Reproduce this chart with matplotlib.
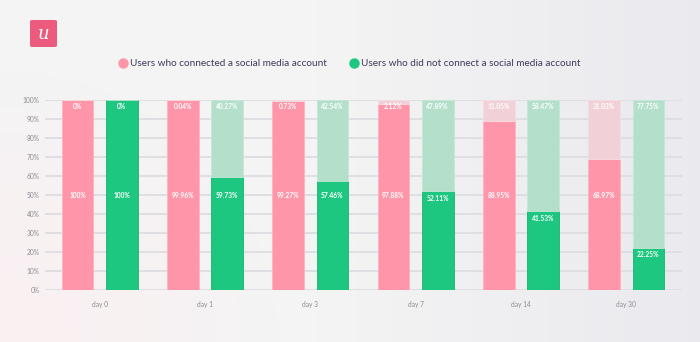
import matplotlib.pyplot as plt
import numpy as np
from matplotlib.patches import FancyBboxPatch
from matplotlib.lines import Line2D

# Data
days = ['day 0', 'day 1', 'day 3', 'day 7', 'day 14', 'day 30']
connected = [100, 99.96, 99.27, 97.88, 88.95, 68.97]
connected_lost = [0, 0.04, 0.73, 2.12, 11.05, 31.03]
not_connected = [100, 59.73, 57.46, 52.11, 41.53, 22.25]
not_connected_lost = [0, 40.27, 42.54, 47.89, 58.47, 77.75]
yticks = [0, 10, 20, 30, 40, 50, 60, 70, 80, 90, 100]

pink = '#FF95A9'
pink_light = '#F1D1D7'
green = '#1DC77F'
green_light = '#B3DFCB'
text_dark = '#3E3B5B'

plt.rcParams['font.family'] = ['Lato', 'DejaVu Sans']

fig = plt.figure(figsize=(7, 3.42), dpi=100)

# Background gradient
bg = fig.add_axes([0, 0, 1, 1])
h, w = 171, 350
yy, xx = np.mgrid[0:1:h * 1j, 0:1:w * 1j]
base = np.array([0.957, 0.957, 0.957])
pinkish = np.array([0.99, 0.935, 0.945])
blueish = np.array([0.905, 0.905, 0.93])
wp = np.clip(1 - np.sqrt((xx / 0.4) ** 2 + ((1 - yy) / 0.8) ** 2), 0, 1)[..., None] * 0.8
wb = np.clip((xx - 0.45) / 0.55, 0, 1)[..., None] * 0.75
img = base * (1 - wp - wb) + pinkish * wp + blueish * wb
bg.imshow(img, aspect='auto', extent=[0, 1, 0, 1], origin='upper')
bg.axis('off')

# Logo
logo = FancyBboxPatch((30 / 700, 1 - 47 / 342), 27 / 700, 27 / 342,
                      boxstyle='round,pad=0,rounding_size=0.004',
                      transform=fig.transFigure, facecolor='#EC5B7E', edgecolor='none')
fig.patches.append(logo)
fig.text(43.5 / 700, 1 - 34 / 342, 'u', color='white', fontsize=13, style='italic',
         family='DejaVu Serif', ha='center', va='center')

# Legend
fig.text(130 / 700, 1 - 63 / 342, 'Users who connected a social media account',
         color=text_dark, fontsize=7.2, va='center', ha='left')
fig.text(361 / 700, 1 - 63 / 342, 'Users who did not connect a social media account',
         color=text_dark, fontsize=7.2, va='center', ha='left')
fig.add_artist(Line2D([123 / 700], [1 - 63 / 342], marker='o', markersize=6.5,
                      color=pink, linestyle='none', transform=fig.transFigure))
fig.add_artist(Line2D([354 / 700], [1 - 63 / 342], marker='o', markersize=6.5,
                      color=green, linestyle='none', transform=fig.transFigure))

# Main chart
ax = fig.add_axes([45 / 700, 52 / 342, 637 / 700, 190 / 342])
ax.patch.set_alpha(0)
x = np.arange(len(days))
bw = 0.30
off = 0.21

ax.bar(x - off, connected, bw, color=pink, edgecolor='#FFB3C1', linewidth=0.6, zorder=3)
ax.bar(x - off, connected_lost, bw, bottom=connected, color=pink_light,
       edgecolor='#F5DDE1', linewidth=0.6, zorder=3)
ax.bar(x + off, not_connected, bw, color=green, edgecolor='#17B46F', linewidth=0.6, zorder=3)
ax.bar(x + off, not_connected_lost, bw, bottom=not_connected, color=green_light,
       edgecolor='#C4E8D7', linewidth=0.6, zorder=3)

def fmt(v):
    return '%g%%' % v

lab = dict(color='white', fontsize=4.8, ha='center', va='center', zorder=4, fontweight='bold')
for i in range(len(days)):
    ax.text(x[i] - off, 50, fmt(connected[i]), **lab)
    ax.text(x[i] - off, 96.8, fmt(connected_lost[i]), **lab)
    ax.text(x[i] + off, min(50, not_connected[i] - 3.8), fmt(not_connected[i]), **lab)
    ax.text(x[i] + off, 96.8, fmt(not_connected_lost[i]), **lab)

ax.set_xlim(-0.52, 5.53)
ax.set_ylim(0, 100)
ax.set_yticks(yticks)
ax.set_yticklabels([fmt(t) for t in yticks])
ax.set_xticks(x)
ax.set_xticklabels(days)
ax.tick_params(axis='both', length=0, labelsize=4.8, labelcolor='#8C8C94')
ax.tick_params(axis='x', pad=8)
ax.tick_params(axis='y', pad=4)
ax.grid(axis='y', color='#DFDFE3', linewidth=1.4, zorder=0)
for s in ax.spines.values():
    s.set_visible(False)

fig.savefig('out.png', dpi=100)
